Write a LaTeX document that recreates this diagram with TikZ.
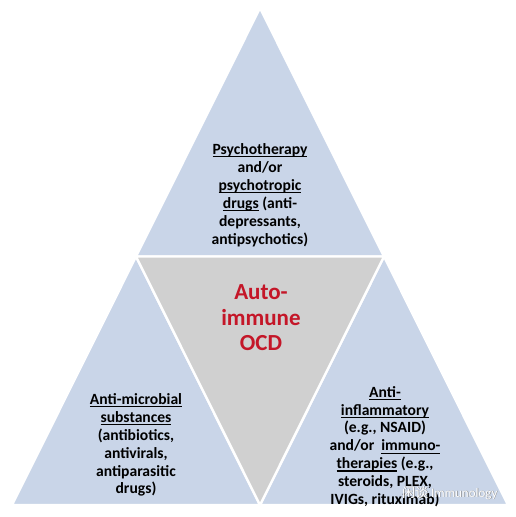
\documentclass[tikz,border=0pt]{standalone}
\usepackage{fontspec}
\setmainfont{Carlito}
\newfontfamily\cjkfont{Noto Sans CJK SC}
\definecolor{triblue}{RGB}{201,213,232}
\definecolor{trigray}{RGB}{208,208,208}
\definecolor{ocdred}{RGB}{196,22,40}
\newcommand\myul[1]{\setbox0\hbox{#1}\rlap{\vrule width \wd0 height -1.7pt depth 2.8pt}\box0\relax}
\tikzset{
  tri/.style={fill=triblue, draw=white, line width=2.4pt, line join=round},
  midtri/.style={fill=trigray, draw=white, line width=2.4pt, line join=round},
  lbl/.style={align=center, font=\fontsize{15.6}{17.9}\selectfont\bfseries, text=black, inner sep=0pt},
  redlbl/.style={align=center, font=\fontsize{23}{25.5}\selectfont\bfseries, text=ocdred, inner sep=0pt},
  wm/.style={font=\fontsize{13}{14}\selectfont, inner sep=0pt, anchor=west}
}
\begin{document}
\begin{tikzpicture}[x=1pt,y=-1pt]
\useasboundingbox (0,0) rectangle (515,517);
\coordinate (T) at (260,8);
\coordinate (ML) at (136,256.5);
\coordinate (MR) at (384,256.5);
\coordinate (BL) at (12,505);
\coordinate (BM) at (260,505);
\coordinate (BR) at (508,505);
\draw[tri] (T) -- (ML) -- (MR) -- cycle;
\draw[tri] (ML) -- (BL) -- (BM) -- cycle;
\draw[tri] (MR) -- (BM) -- (BR) -- cycle;
\draw[midtri] (ML) -- (MR) -- (BM) -- cycle;
\node[lbl] (toptxt) at (260,195) {\myul{Psychotherapy}\\and/or\\\myul{psychotropic}\\\myul{drugs} (anti-\\depressants,\\antipsychotics)};
\node[lbl] (lefttxt) at (136,445) {\myul{Anti-microbial}\\\myul{substances}\\(antibiotics,\\antivirals,\\antiparasitic\\drugs)};
\node[lbl] (righttxt) at (385,446.5) {\myul{Anti-}\\\myul{inflammatory}\\(e.g., NSAID)\\and/or \ \myul{immuno-}\\\myul{therapies} (e.g.,\\steroids, PLEX,\\IVIGs, rituximab)};
\node[redlbl] (ocd) at (261,318) {Auto-\\immune\\OCD};
\node[wm, text=black!45] (wmshadow) at (402.6,493.6) {\cjkfont 闲谈 \rmfamily Immunology};
\node[wm, text=white] (wmtext) at (402,493) {\cjkfont 闲谈 \rmfamily Immunology};
\end{tikzpicture}
\end{document}
